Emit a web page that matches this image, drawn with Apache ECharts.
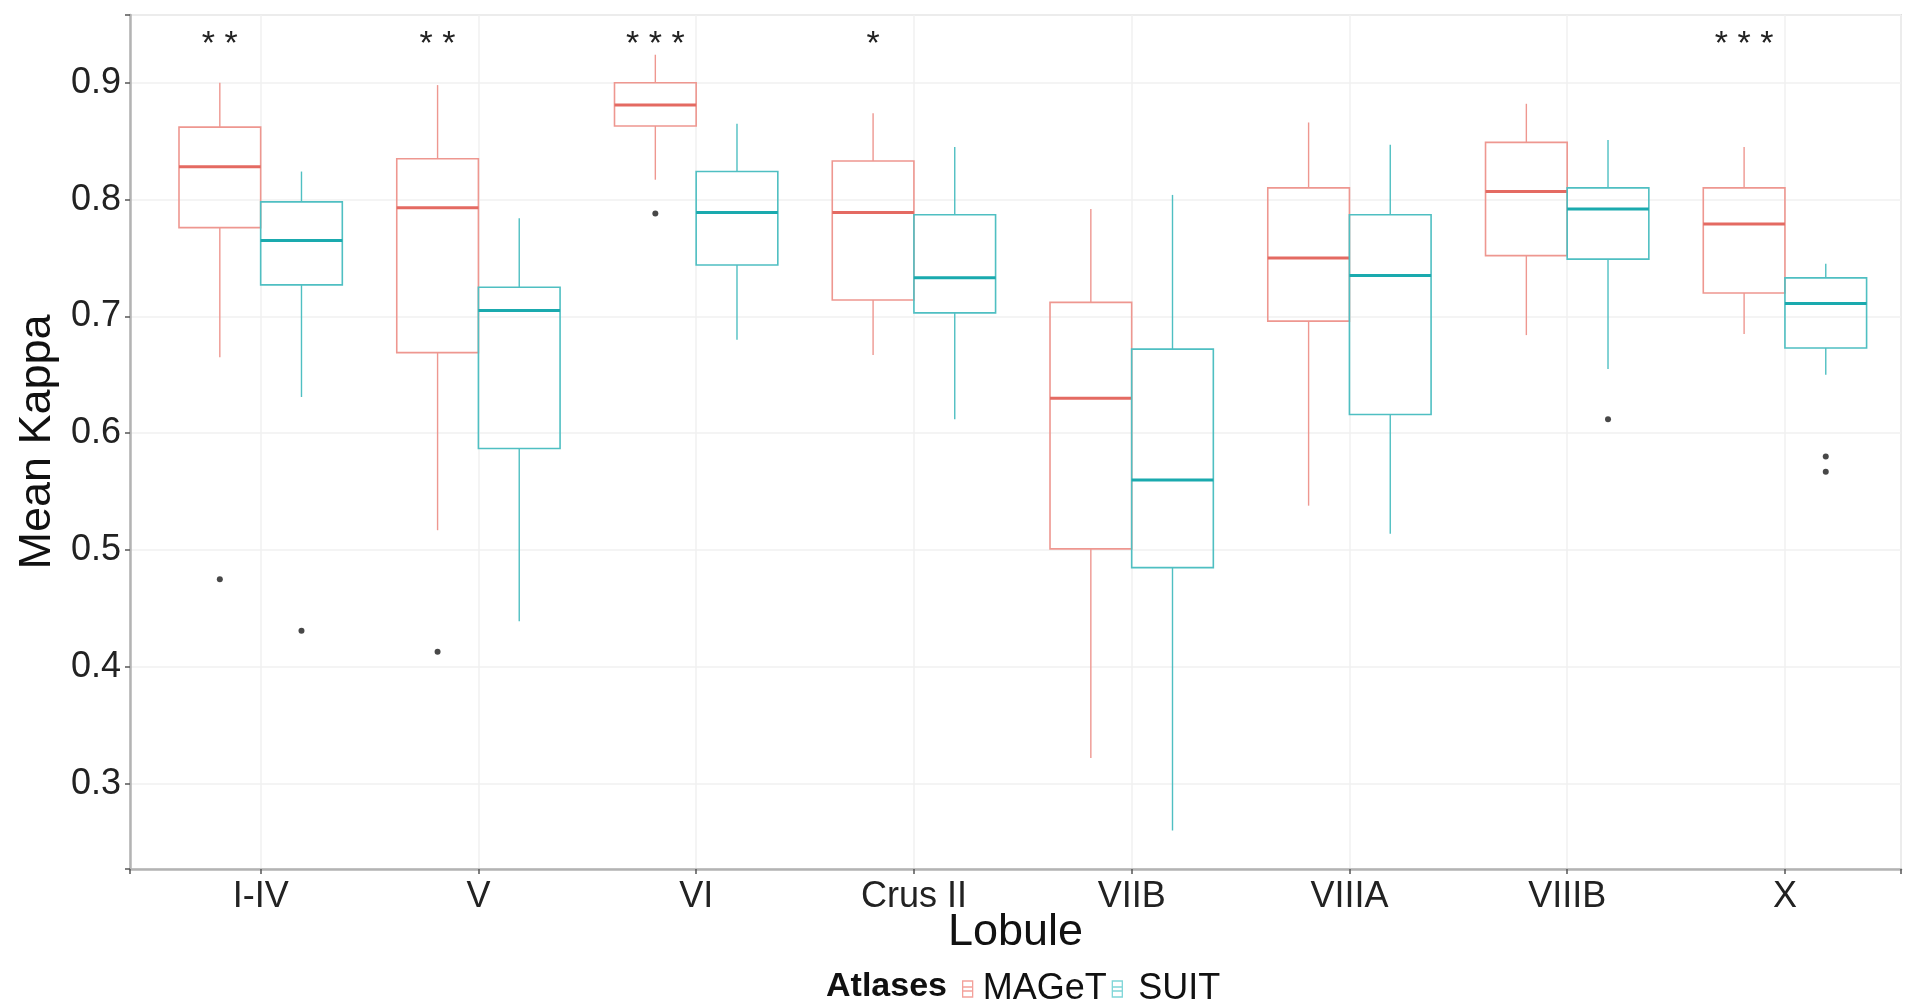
<!DOCTYPE html>
<html>
<head>
<meta charset="utf-8">
<title>Mean Kappa by Lobule</title>
<script src="https://cdn.jsdelivr.net/npm/echarts@6/dist/echarts.min.js"></script>
<style>
html, body { margin: 0; padding: 0; background: #fff; }
#chart { width: 1907px; height: 1005px; }
</style>
</head>
<body>
<div id="chart"></div>
<script>
// lobules on the x axis
var lobules = ['I-IV', 'V', 'VI', 'Crus II', 'VIIB', 'VIIIA', 'VIIIB', 'X'];

// box stats per lobule: [lower whisker, Q1, median, Q3, upper whisker]
var magetStats = [
  [0.665, 0.776, 0.828, 0.862, 0.900],
  [0.517, 0.669, 0.793, 0.835, 0.898],
  [0.817, 0.863, 0.881, 0.900, 0.924],
  [0.667, 0.714, 0.789, 0.833, 0.874],
  [0.322, 0.501, 0.630, 0.712, 0.792],
  [0.538, 0.696, 0.750, 0.810, 0.866],
  [0.684, 0.752, 0.807, 0.849, 0.882],
  [0.685, 0.720, 0.779, 0.810, 0.845]
];
var suitStats = [
  [0.631, 0.727, 0.765, 0.798, 0.824],
  [0.439, 0.587, 0.705, 0.725, 0.784],
  [0.680, 0.744, 0.789, 0.824, 0.865],
  [0.612, 0.703, 0.733, 0.787, 0.845],
  [0.260, 0.485, 0.560, 0.672, 0.804],
  [0.514, 0.616, 0.735, 0.787, 0.847],
  [0.655, 0.749, 0.792, 0.810, 0.851],
  [0.650, 0.673, 0.711, 0.733, 0.745]
];

// outliers: [lobule index, value]
var magetOutliers = [[0, 0.475], [1, 0.413], [2, 0.788]];
var suitOutliers = [[0, 0.431], [6, 0.612], [7, 0.580], [7, 0.567]];

// significance stars per lobule
var sigLabels = ['**', '**', '***', '*', '', '', '', '***'];

var FONT = 'Liberation Sans, Arial, Helvetica, sans-serif';
var DODGE = 0.1875;   // half of dodge width 0.75 / 2 groups
var HALF = 0.1875;    // half box width
var SIG_Y = 0.933;

function boxData(stats, offset) {
  return stats.map(function (s, i) {
    return [i + 1 + offset].concat(s);
  });
}
function outlierData(list, offset) {
  return list.map(function (o) { return [o[0] + 1 + offset, o[1]]; });
}

function boxRenderer(color, medColor) {
  return function (params, api) {
    var x = api.value(0);
    var lo = api.value(1), q1 = api.value(2), md = api.value(3), q3 = api.value(4), hi = api.value(5);
    var tl = api.coord([x - HALF, q3]);
    var br = api.coord([x + HALF, q1]);
    var top = api.coord([x, hi]), c3 = api.coord([x, q3]);
    var c1 = api.coord([x, q1]), bot = api.coord([x, lo]);
    var m1 = api.coord([x - HALF, md]), m2 = api.coord([x + HALF, md]);
    return {
      type: 'group',
      children: [
        { type: 'line', shape: { x1: top[0], y1: top[1], x2: c3[0], y2: c3[1] }, style: { stroke: color, lineWidth: 1.4 } },
        { type: 'line', shape: { x1: c1[0], y1: c1[1], x2: bot[0], y2: bot[1] }, style: { stroke: color, lineWidth: 1.4 } },
        { type: 'rect', shape: { x: tl[0], y: tl[1], width: br[0] - tl[0], height: br[1] - tl[1] }, style: { fill: 'rgba(0,0,0,0)', stroke: color, lineWidth: 1.6 } },
        { type: 'line', shape: { x1: m1[0], y1: m1[1], x2: m2[0], y2: m2[1] }, style: { stroke: medColor, lineWidth: 3 } }
      ]
    };
  };
}

var sigData = [];
sigLabels.forEach(function (s, i) {
  if (s) sigData.push([i + 1 - DODGE, SIG_Y, s.split('').join(' ')]);
});

var myChart = echarts.init(document.getElementById('chart'));

myChart.setOption({
  animation: false,
  backgroundColor: '#fff',
  grid: {
    left: 130, right: 6, top: 15, bottom: 136,
    show: true, borderColor: '#dedede', borderWidth: 2
  },
  legend: {
    left: 957,
    top: 966,
    itemWidth: 12,
    itemHeight: 16,
    itemGap: 5,
    icon: 'path://M0,0L10,0L10,16L0,16Z M0,6L10,6 M0,10L10,10',
    textStyle: { fontSize: 36, color: '#111', fontFamily: FONT, padding: [0, 0, 0, 4] },
    data: [
      { name: 'MAGeT', itemStyle: { color: 'rgba(0,0,0,0)', borderColor: '#F3A19B', borderWidth: 1.3 } },
      { name: 'SUIT', itemStyle: { color: 'rgba(0,0,0,0)', borderColor: '#7FD6D8', borderWidth: 1.3 },
        textStyle: { padding: [0, 0, 0, 10] } }
    ]
  },
  graphic: [{
    type: 'text',
    left: 826,
    top: 970,
    style: { text: 'Atlases', fontSize: 34, fontWeight: 'bold', fontFamily: FONT, fill: '#111' }
  }],
  xAxis: {
    type: 'value',
    min: 0.4,
    max: 8.533,
    splitNumber: 8,
    name: 'Lobule',
    nameLocation: 'middle',
    nameGap: 41,
    nameMoveOverlap: false,
    nameTextStyle: { fontSize: 45, color: '#111', fontFamily: FONT },
    axisLine: { lineStyle: { color: '#b3b3b3', width: 2.5 } },
    axisTick: { length: 5, lineStyle: { color: '#555', width: 1.5 } },
    axisLabel: {
      fontSize: 36, color: '#222', fontFamily: FONT, margin: 10,
      formatter: function (v) {
        var r = Math.round(v);
        return Math.abs(v - r) < 1e-6 && r >= 1 && r <= lobules.length ? lobules[r - 1] : '';
      }
    },
    splitLine: { lineStyle: { color: '#f0f0f0', width: 1.5 } }
  },
  yAxis: {
    type: 'value',
    min: 0.227,
    max: 0.958,
    name: 'Mean Kappa',
    nameLocation: 'middle',
    nameGap: 70,
    nameTextStyle: { fontSize: 45, color: '#111', fontFamily: FONT },
    axisLine: { show: true, lineStyle: { color: '#b3b3b3', width: 2.5 } },
    axisTick: { show: true, length: 5, lineStyle: { color: '#555', width: 1.5 } },
    axisLabel: {
      fontSize: 36, color: '#222', fontFamily: FONT, margin: 9,
      formatter: function (v) {
        var r = Math.round(v * 10) / 10;
        return Math.abs(v - r) < 1e-6 ? r.toFixed(1) : '';
      }
    },
    splitLine: { lineStyle: { color: '#f0f0f0', width: 1.5 } }
  },
  series: [
    {
      name: 'MAGeT',
      type: 'custom',
      itemStyle: { color: '#F8766D' },
      renderItem: boxRenderer('#EE9790', '#E46A62'),
      encode: { x: 0, y: [1, 2, 3, 4, 5] },
      data: boxData(magetStats, -DODGE),
      z: 3
    },
    {
      name: 'SUIT',
      type: 'custom',
      itemStyle: { color: '#00BFC4' },
      renderItem: boxRenderer('#4FBFC2', '#1AAAAE'),
      encode: { x: 0, y: [1, 2, 3, 4, 5] },
      data: boxData(suitStats, DODGE),
      z: 3
    },
    {
      name: 'outliers',
      type: 'scatter',
      symbolSize: 6,
      itemStyle: { color: '#1a1a1a' },
      data: outlierData(magetOutliers, -DODGE).concat(outlierData(suitOutliers, DODGE)),
      z: 4
    },
    {
      name: 'significance',
      type: 'custom',
      renderItem: function (params, api) {
        var p = api.coord([api.value(0), api.value(1)]);
        return {
          type: 'text',
          x: p[0],
          y: p[1],
          style: {
            text: sigData[params.dataIndex][2],
            fontSize: 34,
            fontFamily: FONT,
            fill: '#222',
            align: 'center',
            verticalAlign: 'middle'
          }
        };
      },
      encode: { x: 0, y: 1 },
      data: sigData,
      z: 4
    }
  ]
});
</script>
</body>
</html>
